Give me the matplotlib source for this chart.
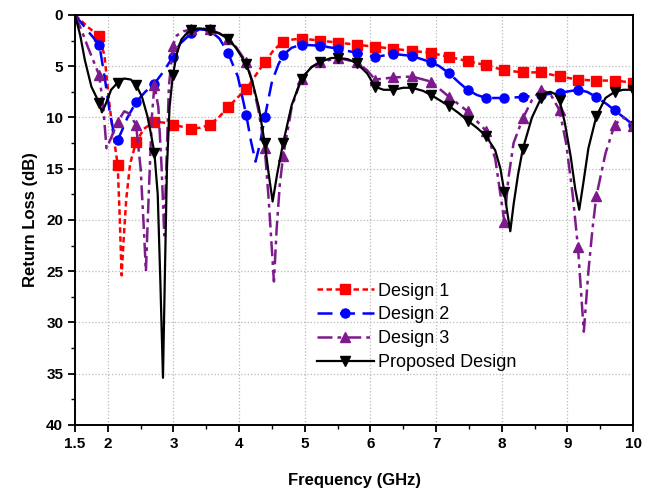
import numpy as np
import matplotlib
matplotlib.use("Agg")
import matplotlib.pyplot as plt
from matplotlib.ticker import MultipleLocator, FixedLocator

plt.rcParams['font.family'] = ['Liberation Sans', 'DejaVu Sans']

# --- marker positions (GHz) shared by all curves ---
marker_freqs = [1.87, 2.15, 2.43, 2.71, 2.99, 3.27, 3.55, 3.83, 4.11, 4.39,
                4.67, 4.95, 5.23, 5.51, 5.79, 6.07, 6.35, 6.63, 6.92, 7.20,
                7.48, 7.76, 8.04, 8.32, 8.60, 8.88, 9.16, 9.44, 9.72, 10.0]

# --- Design 1 ---
f_d1 = [1.5, 1.6, 1.7, 1.87, 1.95, 2.02, 2.08, 2.15, 2.18, 2.21, 2.24, 2.28,
        2.34, 2.43, 2.55, 2.71, 2.85, 2.99, 3.13, 3.27, 3.41, 3.55, 3.69,
        3.83, 3.97, 4.11, 4.25, 4.39, 4.53, 4.67, 4.81, 4.95, 5.23, 5.51,
        5.79, 6.07, 6.35, 6.63, 6.92, 7.20, 7.48, 7.76, 8.04, 8.32, 8.60,
        8.88, 9.16, 9.44, 9.72, 10.0]
rl_d1 = [0.0, 0.6, 1.2, 2.05, 4.0, 8.5, 11.5, 14.6, 19.5, 25.4, 22.0, 18.0,
         14.5, 12.4, 11.1, 10.4, 10.5, 10.7, 10.9, 11.1, 11.0, 10.7, 10.0,
         9.0, 8.1, 7.2, 5.9, 4.6, 3.4, 2.6, 2.4, 2.3, 2.5, 2.7,
         2.9, 3.1, 3.3, 3.5, 3.7, 4.1, 4.5, 4.9, 5.4, 5.6, 5.6,
         6.0, 6.3, 6.4, 6.4, 6.6]

# --- Design 2 ---
f_d2 = [1.5, 1.6, 1.7, 1.87, 1.95, 2.03, 2.1, 2.15, 2.2, 2.3, 2.43, 2.57,
        2.71, 2.85, 2.99, 3.1, 3.27, 3.4, 3.55, 3.7, 3.83, 3.98, 4.11, 4.18,
        4.25, 4.32, 4.39, 4.5, 4.6, 4.67, 4.8, 4.95, 5.23, 5.51, 5.79, 6.07,
        6.35, 6.63, 6.92, 7.05, 7.20, 7.35, 7.48, 7.62, 7.76, 8.04, 8.32,
        8.60, 8.88, 9.16, 9.30, 9.44, 9.6, 9.72, 9.86, 10.0]
rl_d2 = [0.0, 0.8, 1.6, 2.9, 6.0, 9.5, 11.8, 12.2, 11.5, 10.0, 8.5, 7.5,
         6.7, 5.5, 4.1, 2.8, 1.8, 1.4, 1.5, 2.3, 3.7, 6.0, 9.8, 12.3,
         14.3, 12.5, 10.0, 6.5, 4.8, 3.9, 3.2, 2.9, 3.0, 3.3, 3.7, 4.1,
         3.8, 4.0, 4.6, 5.0, 5.7, 6.6, 7.3, 7.8, 8.1, 8.1, 8.0,
         7.8, 7.6, 7.3, 7.5, 8.0, 8.7, 9.3, 10.0, 10.7]

# --- Design 3 ---
f_d3 = [1.5, 1.6, 1.7, 1.87, 1.93, 1.98, 2.05, 2.15, 2.25, 2.32, 2.43, 2.50,
        2.55, 2.58, 2.62, 2.67, 2.71, 2.77, 2.82, 2.86, 2.89, 2.93, 2.99,
        3.05, 3.15, 3.27, 3.4, 3.55, 3.7, 3.83, 3.95, 4.11, 4.2, 4.3, 4.39,
        4.45, 4.50, 4.53, 4.57, 4.62, 4.67, 4.8, 4.95, 5.1, 5.23, 5.51, 5.79,
        5.95, 6.07, 6.35, 6.63, 6.92, 7.05, 7.20, 7.48, 7.76, 7.90, 7.98,
        8.04, 8.10, 8.18, 8.32, 8.46, 8.60, 8.74, 8.88, 8.98, 9.08, 9.16,
        9.25, 9.32, 9.38, 9.44, 9.58, 9.72, 9.86, 10.0]
rl_d3 = [0.0, 1.5, 3.2, 5.9, 9.0, 13.0, 12.0, 10.4, 9.4, 9.6, 10.7, 15.0,
         21.0, 25.0, 18.0, 10.0, 6.8, 9.0, 15.0, 21.5, 15.0, 7.0, 3.0,
         2.0, 1.6, 1.4, 1.3, 1.4, 1.8, 2.3, 3.1, 4.6, 6.5, 9.5, 13.0,
         18.0, 23.0, 26.0, 21.0, 16.5, 13.8, 9.0, 6.2, 5.1, 4.6, 4.2, 4.6,
         5.4, 6.3, 6.1, 6.0, 6.5, 7.2, 8.0, 9.4, 11.3, 14.0, 17.5,
         20.2, 16.0, 12.5, 10.1, 8.3, 7.3, 7.7, 9.3, 12.5, 17.5, 22.6,
         30.9, 25.0, 21.0, 17.7, 13.5, 10.7, 10.0, 10.8]

# --- Proposed Design ---
f_pr = [1.5, 1.58, 1.65, 1.75, 1.87, 1.91, 1.96, 2.05, 2.15, 2.25, 2.35, 2.43,
        2.52, 2.60, 2.66, 2.71, 2.76, 2.80, 2.84, 2.87, 2.90, 2.94, 2.99,
        3.05, 3.12, 3.2, 3.27, 3.4, 3.55, 3.7, 3.83, 3.95, 4.11, 4.2, 4.3,
        4.39, 4.45, 4.51, 4.58, 4.67, 4.8, 4.95, 5.1, 5.23, 5.4, 5.51, 5.65,
        5.79, 5.95, 6.07, 6.2, 6.35, 6.5, 6.63, 6.8, 6.92, 7.05, 7.20, 7.35,
        7.48, 7.62, 7.76, 7.90, 7.98, 8.04, 8.09, 8.13, 8.18, 8.25, 8.32,
        8.46, 8.60, 8.67, 8.74, 8.81, 8.88, 8.96, 9.05, 9.12, 9.18, 9.24,
        9.32, 9.44, 9.58, 9.72, 9.85, 10.0]
rl_pr = [0.0, 2.0, 4.4, 7.0, 8.6, 9.5, 8.8, 7.3, 6.6, 6.2, 6.3, 6.8,
         8.0, 9.8, 11.7, 13.5, 17.5, 26.0, 35.4, 25.0, 15.0, 9.0, 5.9,
         3.8, 2.4, 1.8, 1.5, 1.3, 1.5, 1.8, 2.3, 3.2, 4.8, 6.5, 9.0,
         12.5, 15.5, 18.2, 15.5, 12.5, 8.8, 6.2, 5.1, 4.6, 4.2, 4.2, 4.3,
         4.7, 5.7, 7.0, 7.3, 7.3, 7.1, 7.1, 7.4, 7.8, 8.3, 8.9, 9.6,
         10.3, 11.0, 11.8, 13.2, 15.0, 17.3, 19.5, 21.1, 18.5, 15.5, 13.1,
         10.0, 8.1, 7.6, 7.5, 7.7, 8.3, 10.5, 13.8, 17.0, 19.0, 16.5,
         13.0, 9.9, 8.1, 7.5, 7.3, 7.3]

series = [
    ("Design 1", f_d1, rl_d1, "#ff0000", (0, (2.2, 1.4)), "s"),
    ("Design 2", f_d2, rl_d2, "#0000ff", (0, (6, 3)), "o"),
    ("Design 3", f_d3, rl_d3, "#7d1a8c", (0, (6, 2, 1.5, 2)), "^"),
    ("Proposed Design", f_pr, rl_pr, "black", "-", "v"),
]

fig = plt.figure(figsize=(6.55, 4.94), dpi=100)
ax = fig.add_axes([0.1145, 0.1397, 0.852, 0.830])

for name, f, rl, col, ls, mk in series:
    f = np.array(f)
    idx = [i for i, v in enumerate(f) if np.any(np.isclose(v, marker_freqs))]
    ax.plot(f, rl, color=col, linestyle=ls, linewidth=1.8 if ls != "-" else 1.6,
            marker=mk, markevery=idx, markersize=6.5, label=name)

ax.set_xlim(1.5, 10)
ax.set_ylim(40, 0)
ax.xaxis.set_major_locator(FixedLocator([1.5, 2, 3, 4, 5, 6, 7, 8, 9, 10]))
ax.xaxis.set_minor_locator(FixedLocator(np.arange(2.5, 10, 1.0)))
ax.yaxis.set_major_locator(MultipleLocator(5))
ax.yaxis.set_minor_locator(MultipleLocator(2.5))
ax.set_xticklabels(["1.5", "2", "3", "4", "5", "6", "7", "8", "9", "10"])

ax.tick_params(which='major', direction='out', length=5, width=1.3, labelsize=11)
ax.tick_params(which='minor', direction='out', length=3, width=1.0)
for lab in ax.get_xticklabels() + ax.get_yticklabels():
    lab.set_fontweight('bold')

ax.grid(True, which='major', linestyle=':', color='#b8b8b8', linewidth=0.9)
for sp in ax.spines.values():
    sp.set_linewidth(1.4)

ax.set_xlabel("Frequency (GHz)", fontsize=12, fontweight='bold', labelpad=16)
ax.set_ylabel("Return Loss (dB)", fontsize=12, fontweight='bold', labelpad=6)

ax.legend(loc='upper left', bbox_to_anchor=(0.42, 0.365), frameon=False,
          fontsize=13, handlelength=3.2, handletextpad=0.2, labelspacing=0.38,
          borderaxespad=0)

fig.savefig("out.png", dpi=100)
